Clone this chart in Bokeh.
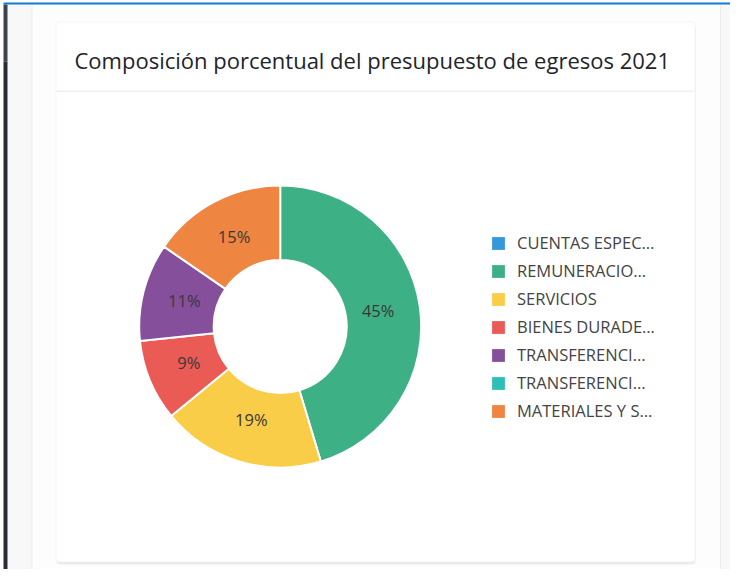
import math
from bokeh.plotting import figure
from bokeh.models import Range1d, Legend, LegendItem, Label, BoxAnnotation, ColumnDataSource
from bokeh.embed import file_html
from bokeh.resources import INLINE
from bokeh.core.properties import value

# ---------------- data ----------------
title_text = "Composición porcentual del presupuesto de egresos 2021"
categories = ["CUENTAS ESPEC…", "REMUNERACIO…", "SERVICIOS", "BIENES DURADE…",
              "TRANSFERENCI…", "TRANSFERENCI…", "MATERIALES Y S…"]
shares = [0.0, 45.3, 18.7, 9.3, 11.2, 0.0, 15.4]
colors = ["#3498db", "#3eb086", "#f9cd48", "#ea5b56", "#854f9b", "#2fbfb9", "#ee8540"]

# ---------------- geometry helpers (screen-like coordinates) ----------------
W, H = 730, 569
def Y(sy):
    return 585 - sy

CX, CY = 287.7, Y(334)
R_OUT, R_IN, R_LAB = 141, 66.5, 99
FONT = "Open Sans"
NAN = float("nan")

total = sum(shares)
starts, ends, mids = [], [], []
acc = 0.0
for s in shares:
    a0 = math.pi / 2 - 2 * math.pi * acc / total
    acc += s
    a1 = math.pi / 2 - 2 * math.pi * acc / total
    starts.append(a0)
    ends.append(a1)
    mids.append((a0 + a1) / 2)

src = ColumnDataSource(dict(
    cat=categories, share=shares, color=colors, start=starts, end=ends,
    x=[CX if s > 0 else NAN for s in shares],
    nx=[NAN] * len(shares),
))

lab_idx = [i for i, s in enumerate(shares) if s > 0]
lab_src = ColumnDataSource(dict(
    x=[CX + R_LAB * math.cos(mids[i]) for i in lab_idx],
    y=[CY + R_LAB * math.sin(mids[i]) for i in lab_idx],
    t=["%d%%" % round(shares[i] * 100 / total) for i in lab_idx],
))

p = figure(width=W, height=H, x_range=Range1d(8, 738), y_range=Range1d(8, 577),
           min_border=0, output_backend="svg", toolbar_location=None)
p.axis.visible = False
p.grid.visible = False
p.outline_line_color = None
p.background_fill_color = "#ffffff"
p.border_fill_color = "#ffffff"

# ---------------- page chrome ----------------
def box(l, r, t, b, fill, line=None, radius=0, alpha=1.0):
    bx = BoxAnnotation(left=l, right=r, top=Y(t), bottom=Y(b), fill_color=fill,
                       fill_alpha=alpha, line_color=line, level="underlay",
                       border_radius=radius)
    p.add_layout(bx)

box(40, 728, 12, 585, "#fdfdfd")
box(15, 39, 12, 585, "#f8f8f9")
box(39, 40, 12, 585, "#ececec")
box(728, 738, 12, 585, "#f8f8f9")
box(727.5, 728.5, 12, 585, "#ececec")
box(11, 15, 12, 69, "#3b4249")
box(11, 15, 69, 585, "#262c32")
box(11, 738, 10, 12, "#0d7ad8")
box(64, 703, 31, 572, "#ececec", radius=4)
box(63.5, 702.5, 29.5, 569.5, "#ffffff", line="#e3e3e3", radius=4)
box(64, 702, 98, 99.5, "#efefef")

# ---------------- title ----------------
p.add_layout(Label(x=82, y=Y(67), text=title_text, text_font=FONT,
                   text_font_size="22px", text_color="#212529",
                   text_baseline="middle", text_align="left"))

# ---------------- donut ----------------
p.annular_wedge(x="x", y=CY, inner_radius=R_IN, outer_radius=R_OUT,
                start_angle="start", end_angle="end", direction="clock",
                fill_color="color", line_color="#ffffff", line_width=2,
                source=src)

p.text(x="x", y="y", text="t", source=lab_src, text_font=value(FONT),
       text_font_size="16.5px", text_color="#383838", y_offset=-2,
       text_align="center", text_baseline="middle")

# legend-only renderer (nothing drawn in the plot: x is NaN)
leg_r = p.annular_wedge(x="nx", y=CY, inner_radius=R_IN, outer_radius=R_OUT,
                        start_angle="start", end_angle="end", direction="clock",
                        fill_color="color", line_color=None, source=src)

# ---------------- legend ----------------
items = [LegendItem(label=categories[i], renderers=[leg_r], index=i)
         for i in range(len(categories))]
legend = Legend(items=items, location=(490, 147), orientation="vertical",
                glyph_width=16, glyph_height=16, label_height=16,
                label_standoff=11, spacing=5, padding=0, margin=0,
                border_line_color=None, background_fill_alpha=0,
                label_text_font=FONT, label_text_font_size="16.5px",
                label_text_color="#444444", label_text_baseline="middle")
p.add_layout(legend)

open("out.html", "w").write(file_html(p, INLINE))
